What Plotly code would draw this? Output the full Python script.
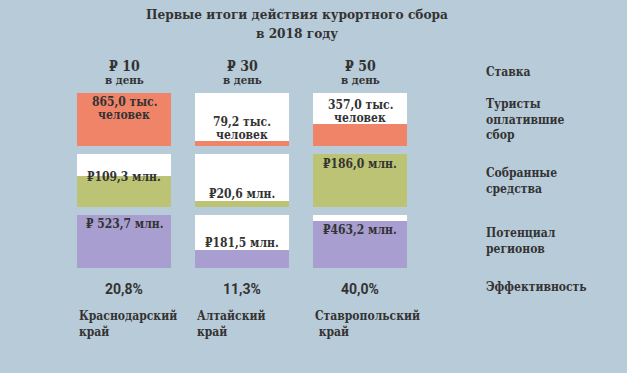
import plotly.graph_objects as go

W, H = 627, 373

regions = ["Краснодарский<br>край", "Алтайский<br>край", "Ставропольский<br> край"]
rates = ["₽ 10", "₽ 30", "₽ 50"]
tourists = [865.0, 79.2, 357.0]          # тыс. человек
collected = [109.3, 20.6, 186.0]         # млн руб.
potential = [523.7, 181.5, 463.2]        # млн руб.
efficiency = [20.8, 11.3, 40.0]          # %
row_labels = ["Ставка", "Туристы<br>оплатившие<br>сбор", "Собранные<br>средства",
              "Потенциал<br>регионов", "Эффективность"]

BG = "#b8cbd9"
TXT = "#333333"
SERIF = "DejaVu Serif Condensed, DejaVu Serif, serif"
SANS = "Roboto, sans-serif"
colors = ["#f08468", "#bcc374", "#a89ecf"]

def fmt(v):
    return f"{v:.1f}".replace(".", ",")

def py(p):  # pixel from top -> paper fraction
    return (H - p) / H

fig = go.Figure()
rows = [tourists, collected, potential]
yaxes = ["y", "y2", "y3"]
domains = [(py(146), py(93)), (py(207), py(154)), (py(268), py(215))]
xs = [0, 1, 2]
for vals, ya, col in zip(rows, yaxes, colors):
    m = max(vals)
    fig.add_trace(go.Bar(x=xs, y=[m] * 3, xaxis="x", yaxis=ya, width=0.8,
                         marker=dict(color="white", line=dict(width=0)),
                         hoverinfo="skip", showlegend=False))
    fig.add_trace(go.Bar(x=xs, y=vals, xaxis="x", yaxis=ya, width=0.8,
                         marker=dict(color=col, line=dict(width=0)),
                         showlegend=False))

ann = []
def A(x, y, text, size=12, font=SERIF, xanchor="center", xref="x", align="center"):
    ann.append(dict(x=x, y=py(y), xref=xref, yref="paper", text=text, showarrow=False,
                    xanchor=xanchor, yanchor="middle", align=align,
                    font=dict(family=font, size=size, color=TXT)))

A(0.474, 14, "<b>Первые итоги действия курортного сбора</b>", size=13.5, xref="paper")
A(0.474, 33, "<b>в 2018 году</b>", size=13.5, xref="paper")

for i, r in enumerate(rates):
    A(i, 66, f"<b>{r}</b>", size=14)
    A(i, 80, "<b>в день</b>", size=11.5)

t_pos = [(102, 115), (122, 135), (105, 118)]
for i, v in enumerate(tourists):
    A(i, t_pos[i][0], f"<b>{fmt(v)} тыс.</b>", size=12)
    A(i, t_pos[i][1], "<b>человек</b>", size=12)

c_pos = [177, 194, 164]
for i, v in enumerate(collected):
    A(i, c_pos[i], f"<b>₽{fmt(v)} млн.</b>", size=12)

p_pos = [224, 243, 230]
for i, v in enumerate(potential):
    A(i, p_pos[i], f"<b>₽ {fmt(v)} млн.</b>" if i == 0 else f"<b>₽{fmt(v)} млн.</b>", size=12)

for i, e in enumerate(efficiency):
    A(i, 289, f"<b>{fmt(e)}%</b>", size=14, font=SANS)

for i, r in enumerate(regions):
    ann.append(dict(x=i - 0.4, y=py(307), xref="x", yref="paper", text=f"<b>{r}</b>",
                    showarrow=False, xanchor="left", yanchor="top", align="left",
                    font=dict(family=SERIF, size=12, color=TXT)))

def R(top, text, anchor="top"):
    ann.append(dict(x=484 / W, y=py(top), xref="paper", yref="paper", text=f"<b>{text}</b>",
                    showarrow=False, xanchor="left", yanchor=anchor, align="left",
                    font=dict(family=SERIF, size=12, color=TXT)))

R(72, row_labels[0], "middle")
for lbl, top in zip(row_labels[1:4], [95, 164, 224]):
    R(top, lbl)
R(287, row_labels[4], "middle")

ax_common = dict(visible=False, fixedrange=True)
fig.update_layout(
    width=W, height=H,
    margin=dict(l=0, r=0, t=0, b=0),
    paper_bgcolor=BG, plot_bgcolor=BG,
    barmode="overlay", bargap=0,
    xaxis=dict(domain=[65 / W, 419 / W], range=[-0.5, 2.5], **ax_common),
    yaxis=dict(domain=list(domains[0]), range=[0, max(tourists)], anchor="x", **ax_common),
    yaxis2=dict(domain=list(domains[1]), range=[0, max(collected)], anchor="x", **ax_common),
    yaxis3=dict(domain=list(domains[2]), range=[0, max(potential)], anchor="x", **ax_common),
    annotations=ann,
)
fig.write_html("out.html", config={"displayModeBar": False},
               post_script="document.body.style.margin='0';document.body.style.overflow='hidden';")
